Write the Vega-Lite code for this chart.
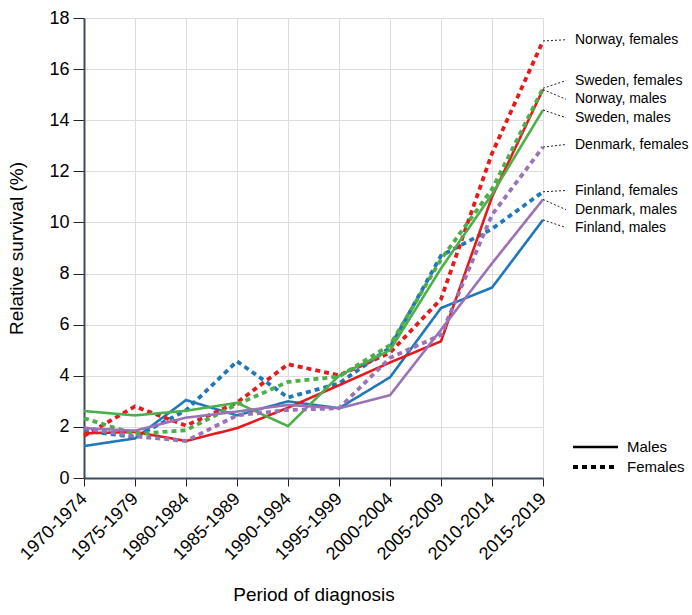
{
  "$schema": "https://vega.github.io/schema/vega-lite/v6.json",
  "width": 459,
  "height": 460,
  "autosize": "none",
  "padding": {"left": 84, "top": 18, "right": 149, "bottom": 137},
  "config": {
    "font": "Liberation Sans",
    "view": {"stroke": null},
    "axis": {"gridColor": "#dddddd", "gridWidth": 1, "domainColor": "#3b4a5e", "domainWidth": 2, "tickColor": "#222222", "labelColor": "#000000", "titleColor": "#000000", "titleFontWeight": "normal"}
  },
  "datasets": {
    "series": [
      {"country": "Finland", "sex": "Males", "period": "1970-1974", "value": 1.25},
      {"country": "Finland", "sex": "Males", "period": "1975-1979", "value": 1.55},
      {"country": "Finland", "sex": "Males", "period": "1980-1984", "value": 3.05},
      {"country": "Finland", "sex": "Males", "period": "1985-1989", "value": 2.45},
      {"country": "Finland", "sex": "Males", "period": "1990-1994", "value": 3.0},
      {"country": "Finland", "sex": "Males", "period": "1995-1999", "value": 2.73},
      {"country": "Finland", "sex": "Males", "period": "2000-2004", "value": 3.94},
      {"country": "Finland", "sex": "Males", "period": "2005-2009", "value": 6.65},
      {"country": "Finland", "sex": "Males", "period": "2010-2014", "value": 7.45},
      {"country": "Finland", "sex": "Males", "period": "2015-2019", "value": 10.1},
      {"country": "Finland", "sex": "Females", "period": "1970-1974", "value": 1.85},
      {"country": "Finland", "sex": "Females", "period": "1975-1979", "value": 1.6},
      {"country": "Finland", "sex": "Females", "period": "1980-1984", "value": 2.65},
      {"country": "Finland", "sex": "Females", "period": "1985-1989", "value": 4.57},
      {"country": "Finland", "sex": "Females", "period": "1990-1994", "value": 3.15},
      {"country": "Finland", "sex": "Females", "period": "1995-1999", "value": 3.7},
      {"country": "Finland", "sex": "Females", "period": "2000-2004", "value": 5.1},
      {"country": "Finland", "sex": "Females", "period": "2005-2009", "value": 8.7},
      {"country": "Finland", "sex": "Females", "period": "2010-2014", "value": 9.75},
      {"country": "Finland", "sex": "Females", "period": "2015-2019", "value": 11.2},
      {"country": "Norway", "sex": "Males", "period": "1970-1974", "value": 1.75},
      {"country": "Norway", "sex": "Males", "period": "1975-1979", "value": 1.8},
      {"country": "Norway", "sex": "Males", "period": "1980-1984", "value": 1.45},
      {"country": "Norway", "sex": "Males", "period": "1985-1989", "value": 1.95},
      {"country": "Norway", "sex": "Males", "period": "1990-1994", "value": 2.75},
      {"country": "Norway", "sex": "Males", "period": "1995-1999", "value": 3.63},
      {"country": "Norway", "sex": "Males", "period": "2000-2004", "value": 4.52},
      {"country": "Norway", "sex": "Males", "period": "2005-2009", "value": 5.35},
      {"country": "Norway", "sex": "Males", "period": "2010-2014", "value": 11.0},
      {"country": "Norway", "sex": "Males", "period": "2015-2019", "value": 15.2},
      {"country": "Norway", "sex": "Females", "period": "1970-1974", "value": 1.65},
      {"country": "Norway", "sex": "Females", "period": "1975-1979", "value": 2.8},
      {"country": "Norway", "sex": "Females", "period": "1980-1984", "value": 2.05},
      {"country": "Norway", "sex": "Females", "period": "1985-1989", "value": 2.95},
      {"country": "Norway", "sex": "Females", "period": "1990-1994", "value": 4.45},
      {"country": "Norway", "sex": "Females", "period": "1995-1999", "value": 4.02},
      {"country": "Norway", "sex": "Females", "period": "2000-2004", "value": 4.9},
      {"country": "Norway", "sex": "Females", "period": "2005-2009", "value": 7.0},
      {"country": "Norway", "sex": "Females", "period": "2010-2014", "value": 12.7},
      {"country": "Norway", "sex": "Females", "period": "2015-2019", "value": 17.1},
      {"country": "Sweden", "sex": "Males", "period": "1970-1974", "value": 2.62},
      {"country": "Sweden", "sex": "Males", "period": "1975-1979", "value": 2.45},
      {"country": "Sweden", "sex": "Males", "period": "1980-1984", "value": 2.63},
      {"country": "Sweden", "sex": "Males", "period": "1985-1989", "value": 2.94},
      {"country": "Sweden", "sex": "Males", "period": "1990-1994", "value": 2.03},
      {"country": "Sweden", "sex": "Males", "period": "1995-1999", "value": 4.0},
      {"country": "Sweden", "sex": "Males", "period": "2000-2004", "value": 5.0},
      {"country": "Sweden", "sex": "Males", "period": "2005-2009", "value": 8.2},
      {"country": "Sweden", "sex": "Males", "period": "2010-2014", "value": 11.1},
      {"country": "Sweden", "sex": "Males", "period": "2015-2019", "value": 14.4},
      {"country": "Sweden", "sex": "Females", "period": "1970-1974", "value": 2.34},
      {"country": "Sweden", "sex": "Females", "period": "1975-1979", "value": 1.72},
      {"country": "Sweden", "sex": "Females", "period": "1980-1984", "value": 1.87},
      {"country": "Sweden", "sex": "Females", "period": "1985-1989", "value": 2.88},
      {"country": "Sweden", "sex": "Females", "period": "1990-1994", "value": 3.76},
      {"country": "Sweden", "sex": "Females", "period": "1995-1999", "value": 3.97},
      {"country": "Sweden", "sex": "Females", "period": "2000-2004", "value": 5.2},
      {"country": "Sweden", "sex": "Females", "period": "2005-2009", "value": 8.55},
      {"country": "Sweden", "sex": "Females", "period": "2010-2014", "value": 11.3},
      {"country": "Sweden", "sex": "Females", "period": "2015-2019", "value": 15.25},
      {"country": "Denmark", "sex": "Males", "period": "1970-1974", "value": 1.95},
      {"country": "Denmark", "sex": "Males", "period": "1975-1979", "value": 1.85},
      {"country": "Denmark", "sex": "Males", "period": "1980-1984", "value": 2.36},
      {"country": "Denmark", "sex": "Males", "period": "1985-1989", "value": 2.6},
      {"country": "Denmark", "sex": "Males", "period": "1990-1994", "value": 2.86},
      {"country": "Denmark", "sex": "Males", "period": "1995-1999", "value": 2.73},
      {"country": "Denmark", "sex": "Males", "period": "2000-2004", "value": 3.24},
      {"country": "Denmark", "sex": "Males", "period": "2005-2009", "value": 5.8},
      {"country": "Denmark", "sex": "Males", "period": "2010-2014", "value": 8.4},
      {"country": "Denmark", "sex": "Males", "period": "2015-2019", "value": 10.9},
      {"country": "Denmark", "sex": "Females", "period": "1970-1974", "value": 1.95},
      {"country": "Denmark", "sex": "Females", "period": "1975-1979", "value": 1.63},
      {"country": "Denmark", "sex": "Females", "period": "1980-1984", "value": 1.45},
      {"country": "Denmark", "sex": "Females", "period": "1985-1989", "value": 2.45},
      {"country": "Denmark", "sex": "Females", "period": "1990-1994", "value": 2.66},
      {"country": "Denmark", "sex": "Females", "period": "1995-1999", "value": 2.73},
      {"country": "Denmark", "sex": "Females", "period": "2000-2004", "value": 4.7},
      {"country": "Denmark", "sex": "Females", "period": "2005-2009", "value": 5.6},
      {"country": "Denmark", "sex": "Females", "period": "2010-2014", "value": 10.3},
      {"country": "Denmark", "sex": "Females", "period": "2015-2019", "value": 12.95}
    ],
    "labels": [
      {"label": "Norway, females", "period": "2015-2019", "value": 17.1, "labelValue": 17.15},
      {"label": "Sweden, females", "period": "2015-2019", "value": 15.25, "labelValue": 15.55},
      {"label": "Norway, males", "period": "2015-2019", "value": 15.2, "labelValue": 14.82},
      {"label": "Sweden, males", "period": "2015-2019", "value": 14.4, "labelValue": 14.1},
      {"label": "Denmark, females", "period": "2015-2019", "value": 12.95, "labelValue": 13.05},
      {"label": "Finland, females", "period": "2015-2019", "value": 11.2, "labelValue": 11.25},
      {"label": "Denmark, males", "period": "2015-2019", "value": 10.9, "labelValue": 10.5},
      {"label": "Finland, males", "period": "2015-2019", "value": 10.1, "labelValue": 9.8}
    ]
  },
  "layer": [
    {
      "data": {"name": "series"},
      "mark": {"type": "line", "clip": false},
      "encoding": {
        "x": {
          "field": "period", "type": "ordinal",
          "scale": {"type": "point", "padding": 0},
          "axis": {"labelAngle": -45, "labelAlign": "right", "labelBaseline": "middle", "labelFontSize": 18, "labelPadding": 10, "tickSize": 8, "title": "Period of diagnosis", "titleFontSize": 19, "titlePadding": 22, "grid": true}
        },
        "y": {
          "field": "value", "type": "quantitative",
          "scale": {"domain": [0, 18], "nice": false},
          "axis": {"values": [0,1,2,3,4,5,6,7,8,9,10,11,12,13,14,15,16,17,18], "labelExpr": "datum.value % 2 == 0 ? datum.label : ''", "labelFontSize": 18, "labelPadding": 4, "tickSize": 11, "title": "Relative survival (%)", "titleFontSize": 19, "titlePadding": 22, "grid": true}
        },
        "color": {
          "field": "country", "type": "nominal",
          "scale": {"domain": ["Finland", "Norway", "Sweden", "Denmark"], "range": ["#2178b8", "#e41a1c", "#4daf4a", "#9a72b8"]},
          "legend": null
        },
        "strokeWidth": {
          "field": "sex", "type": "nominal",
          "scale": {"domain": ["Males", "Females"], "range": [2.6, 3.8]},
          "legend": null
        },
        "strokeDash": {
          "field": "sex", "type": "nominal",
          "scale": {"domain": ["Males", "Females"], "range": [[1, 0], [5, 4]]},
          "legend": {"title": null, "orient": "none", "legendX": 487, "legendY": 421, "symbolType": "stroke", "symbolStrokeColor": "#000000", "symbolStrokeWidth": 3, "symbolSize": 2025, "clipHeight": 16, "labelFontSize": 15, "labelOffset": 7, "rowPadding": 4, "labelColor": "#000000"}
        }
      }
    },
    {
      "data": {"name": "labels"},
      "mark": {"type": "rule", "x2Offset": 23, "strokeDash": [2, 2], "strokeWidth": 1, "color": "#222222", "clip": false},
      "encoding": {
        "x": {"field": "period", "type": "ordinal"},
        "x2": {"field": "period"},
        "y": {"field": "value", "type": "quantitative"},
        "y2": {"field": "labelValue"}
      }
    },
    {
      "data": {"name": "labels"},
      "mark": {"type": "text", "align": "left", "baseline": "middle", "dx": 32, "fontSize": 14, "color": "#000000", "clip": false},
      "encoding": {
        "x": {"field": "period", "type": "ordinal"},
        "y": {"field": "labelValue", "type": "quantitative"},
        "text": {"field": "label"}
      }
    }
  ]
}
